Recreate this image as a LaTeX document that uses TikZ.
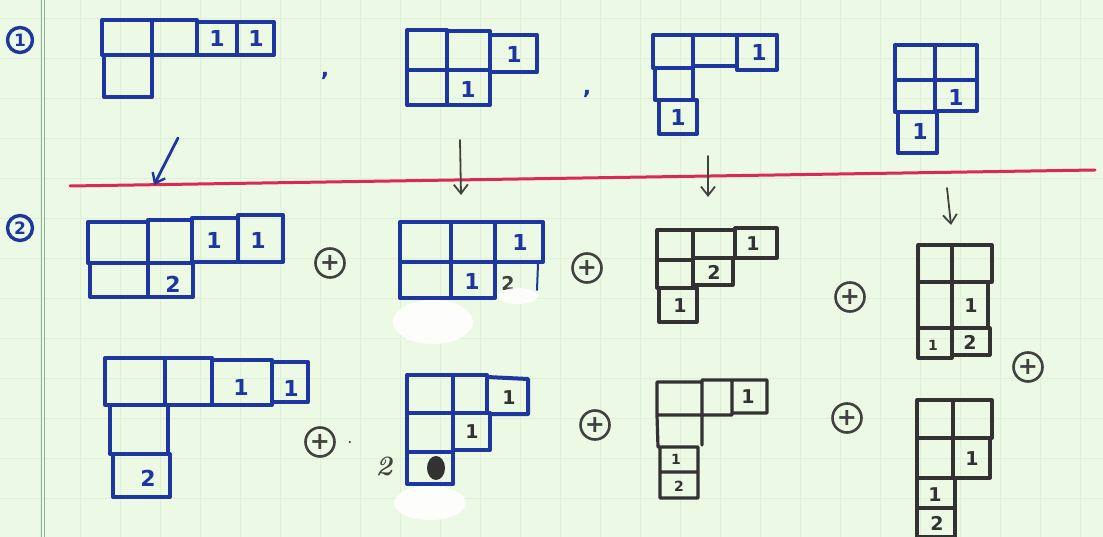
\documentclass[tikz,border=0pt]{standalone}
\usepackage{fontspec}
\newfontfamily\numfont{DejaVu Sans}
\usetikzlibrary{arrows.meta}
\definecolor{paper}{RGB}{236,249,228}
\definecolor{gridc}{RGB}{222,240,216}
\definecolor{marginc}{RGB}{140,178,160}
\definecolor{inkblue}{RGB}{30,55,160}
\definecolor{inkblack}{RGB}{50,50,50}
\definecolor{inkgray}{RGB}{65,65,65}
\definecolor{redline}{RGB}{218,40,88}
\tikzset{
  blueink/.style={draw=inkblue, line width=4pt, line cap=round, line join=round},
  blackink/.style={draw=inkblack, line width=3.2pt, line cap=round, line join=round},
  bnum/.style={text=inkblue, inner sep=0pt, font=\numfont\bfseries\fontsize{22}{22}\selectfont},
  knum/.style={text=inkblack, inner sep=0pt, font=\numfont\bfseries\fontsize{19}{19}\selectfont},
  knumsmall/.style={text=inkblack, inner sep=0pt, font=\numfont\bfseries\fontsize{14}{14}\selectfont},
  plusc/.style={circle, draw=inkgray, line width=2.6pt, minimum size=29pt, inner sep=0pt, text=inkgray, font=\numfont\bfseries\fontsize{24}{24}\selectfont},
  circnum/.style={circle, draw=inkblue, line width=3.4pt, minimum size=25pt, inner sep=0pt, text=inkblue, font=\numfont\bfseries\fontsize{17}{17}\selectfont},
  arrowblue/.style={draw=inkblue, line width=2.8pt, line cap=round, -{Straight Barb[length=9pt,width=14pt,line width=2.4pt]}},
  arrowgray/.style={draw=inkgray, line width=1.8pt, line cap=round, -{Straight Barb[length=9pt,width=14pt,line width=1.8pt]}},
  whiteout/.style={fill=white, draw=none, opacity=0.9}
}
\begin{document}
\begin{tikzpicture}[x=1pt,y=-1pt]
\useasboundingbox (0,0) rectangle (1103,537);
% paper
\fill[paper] (0,0) rectangle (1103,537);
\foreach \gx in {40,80,...,1080} \draw[gridc, line width=0.8pt] (\gx,0) -- (\gx,537);
\foreach \gy in {18,58,...,537} \draw[gridc, line width=0.8pt] (0,\gy) -- (1103,\gy);
\draw[marginc, line width=0.8pt] (41.5,0) -- (41.5,537);
\draw[marginc, line width=0.8pt] (44.5,0) -- (44.5,537);

% circled labels
\node[circnum] (c1) at (20,40) {1};
\node[circnum] (c2) at (20,228) {2};

% red separator
\draw[redline, line width=3pt, line cap=round] (70,186) -- (1095,170);

% ---------- row 1 ----------
% T1a : (4,1)
\draw[blueink] (102,20) rectangle (152,55) (152,20) rectangle (197,55)
  (197,22) rectangle (237,55) (237,22) rectangle (274,55)
  (104,55) rectangle (152,97);
\node[bnum] (a13) at (217,38) {1};
\node[bnum] (a14) at (256,38) {1};
\node[text=inkblue, font=\numfont\bfseries\fontsize{22}{22}\selectfont] (cm1) at (325,76) {,};

% T1b : (3,2)
\draw[blueink] (407,30) rectangle (447,70) (447,31) rectangle (490,70)
  (490,35) rectangle (537,72)
  (407,70) rectangle (447,105) (447,70) rectangle (490,105);
\node[bnum] (b13) at (514,54) {1};
\node[bnum] (b22) at (468,89) {1};
\node[text=inkblue, font=\numfont\bfseries\fontsize{22}{22}\selectfont] (cm2) at (587,94) {,};

% T1c : (3,1,1)
\draw[blueink] (653,35) rectangle (693,68) (693,35) rectangle (737,66)
  (737,35) rectangle (777,70)
  (655,68) rectangle (693,100) (659,100) rectangle (697,134);
\node[bnum] (c13) at (759,52) {1};
\node[bnum] (c31) at (678,117) {1};

% T1d : (2,2,1)
\draw[blueink] (895,45) rectangle (935,80) (935,45) rectangle (977,80)
  (895,80) rectangle (935,112) (935,80) rectangle (977,111)
  (898,112) rectangle (937,153);
\node[bnum] (d22) at (956,97) {1};
\node[bnum] (d31) at (920,131) {1};

% arrows
\coordinate (ar1s) at (178,138); \coordinate (ar1e) at (154,185);
\coordinate (ar2s) at (460,140); \coordinate (ar2e) at (461,195);
\coordinate (ar3s) at (708,156); \coordinate (ar3e) at (708,197);
\coordinate (ar4s) at (947,188); \coordinate (ar4e) at (951,225);
\draw[arrowblue] (ar1s) -- (ar1e);
\draw[arrowgray] (ar2s) -- (ar2e);
\draw[arrowgray] (ar3s) -- (ar3e);
\draw[arrowgray] (ar4s) -- (ar4e);

% whiteout patches
\fill[whiteout] (433,322) ellipse (40 and 22);
\fill[whiteout] (430,503) ellipse (36 and 17);

% ---------- row 2, first line ----------
% T2a : (4,2)
\draw[blueink] (88,222) rectangle (148,263) (148,220) rectangle (192,263)
  (192,218) rectangle (238,262) (238,215) rectangle (283,262)
  (90,263) rectangle (148,297) (148,263) rectangle (193,297);
\node[bnum] (e13) at (214,240) {1};
\node[bnum] (e14) at (258,240) {1};
\node[bnum] (e22) at (173,284) {2};
\node[plusc] (p1) at (330,263) {+};

% T2b : (3,3)
\draw[blueink] (400,222) rectangle (451,262) (451,222) rectangle (495,262)
  (495,222) rectangle (543,262)
  (400,262) rectangle (451,298) (451,262) rectangle (495,298);
\draw[blueink, line width=2pt] (538,264) -- (537,290);
\node[bnum] (f13) at (520,242) {1};
\node[bnum] (f22) at (472,281) {1};
\node[knum, text=inkgray] (f23) at (508,283) {2};
\fill[whiteout] (518,296) ellipse (20 and 8);
\node[plusc] (p2) at (587,268) {+};

% T2c : (3,2,1)
\draw[blackink] (657,230) rectangle (693,260) (693,230) rectangle (735,258)
  (735,228) rectangle (777,258)
  (657,260) rectangle (693,288) (693,258) rectangle (733,285)
  (659,288) rectangle (697,322);
\node[knum] (g13) at (753,244) {1};
\node[knum] (g22) at (714,272) {2};
\node[knum] (g31) at (680,306) {1};
\node[plusc] (p3) at (850,297) {+};

% T2d : (2,2,2)
\draw[blackink] (918,245) rectangle (952,282) (952,245) rectangle (992,282)
  (918,282) rectangle (952,328) (952,282) rectangle (988,328)
  (918,328) rectangle (952,358) (952,328) rectangle (990,355);
\node[knum] (h22) at (971,306) {1};
\node[knumsmall] (h31) at (933,345) {1};
\node[knum] (h32) at (970,342) {2};
\node[plusc] (p4) at (1028,367) {+};

% ---------- row 2, second line ----------
% T3a : (4,1,1)
\draw[blueink] (105,358) rectangle (165,405) (165,358) rectangle (212,405)
  (212,360) rectangle (272,405) (272,362) rectangle (308,402)
  (110,405) rectangle (168,454) (113,454) rectangle (170,497);
\node[bnum] (i13) at (241,387) {1};
\node[bnum] (i14) at (291,388) {1};
\node[bnum] (i31) at (148,478) {2};
\node[plusc] (p5) at (320,442) {+};
\node[text=inkgray, font=\numfont\fontsize{16}{16}\selectfont] (dot) at (350,443) {.};

% T3b : (3,2,1)
\draw[blueink] (407,375) rectangle (453,413) (453,375) rectangle (487,413)
  (407,413) rectangle (453,452) (453,413) rectangle (490,450)
  (407,452) rectangle (453,484);
\draw[blueink] (487,377) -- (528,379) -- (528,414) -- (490,414);
\node[knum] (j13) at (509,398) {1};
\node[knum] (j22) at (472,432) {1};
\fill[inkblack] (436,468) ellipse (9 and 12);
\node[text=inkgray, font=\bfseries\itshape\fontsize{28}{28}\selectfont] (j2) at (384,466) {2};
\node[plusc] (p6) at (595,425) {+};

% T3c : (3,1,1,1)
\draw[blackink] (657,382) rectangle (702,415) (702,380) rectangle (732,415)
  (732,380) rectangle (767,413)
  (657,415) -- (658,447) (702,415) -- (702,445)
  (660,447) rectangle (698,472) (660,472) rectangle (698,498);
\node[knum] (k13) at (748,397) {1};
\node[knumsmall] (k31) at (676,459) {1};
\node[knumsmall] (k41) at (679,486) {2};
\node[plusc] (p7) at (847,418) {+};

% T3d : (2,2,1,1)
\draw[blackink] (917,400) rectangle (953,438) (953,400) rectangle (992,438)
  (917,438) rectangle (953,478) (953,438) rectangle (990,478)
  (917,478) rectangle (955,508) (917,508) rectangle (955,537);
\node[knum] (l22) at (972,459) {1};
\node[knum] (l31) at (935,495) {1};
\node[knum] (l41) at (937,523) {2};
\end{tikzpicture}
\end{document}
